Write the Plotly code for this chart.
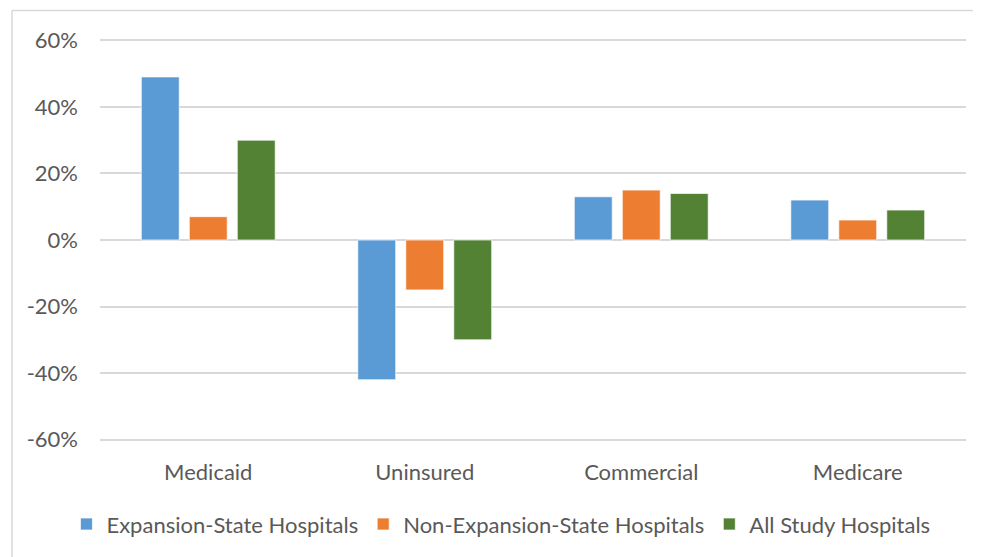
import plotly.graph_objects as go

categories = ["Medicaid", "Uninsured", "Commercial", "Medicare"]
expansion = [0.49, -0.42, 0.13, 0.12]
non_expansion = [0.07, -0.15, 0.15, 0.06]
all_study = [0.30, -0.30, 0.14, 0.09]
series_names = ["Expansion-State Hospitals", "Non-Expansion-State Hospitals", "All Study Hospitals"]
colors = ["#5B9BD5", "#ED7D31", "#548235"]
tick_vals = [-0.6, -0.4, -0.2, 0, 0.2, 0.4, 0.6]
tick_text = ["-60%", "-40%", "-20%", "0%", "20%", "40%", "60%"]

fig = go.Figure()
for name, vals, col in zip(series_names, [expansion, non_expansion, all_study], colors):
    fig.add_trace(go.Bar(x=categories, y=vals, name=name,
                         marker=dict(color=col, line=dict(color="rgba(255,255,255,0.7)", width=1))))

W, H = 981, 557
pad = 10 / 3  # px beyond the +/-60% gridlines
top = 32 - pad
bottom = H - 432 - pad
plot_h = H - top - bottom
plot_w = 866
border_x = -88 / plot_w
border_y = 1 + (top - 2) / plot_h
border = dict(color="#D9D9D9", width=1.5)
fig.update_layout(
    width=W, height=H,
    barmode="group", bargap=0.335, bargroupgap=0.21,
    plot_bgcolor="white", paper_bgcolor="white",
    margin=dict(l=92, r=W - 92 - plot_w, t=top, b=bottom),
    font=dict(family="Lato", size=22, color="#595959"),
    xaxis=dict(showgrid=False, showline=False, ticks="", ticklabelstandoff=14),
    yaxis=dict(range=[-0.61, 0.61], tickvals=tick_vals, ticktext=tick_text,
               showgrid=True, gridcolor="#D9D9D9", gridwidth=1.5,
               zeroline=True, zerolinecolor="#D9D9D9", zerolinewidth=1.5,
               showline=False, ticks="", ticklabelstandoff=21),
    legend=dict(orientation="h", x=0.463, xanchor="center", y=-0.20, yanchor="middle",
                itemwidth=30, traceorder="normal"),
    showlegend=True,
    shapes=[
        dict(type="line", xref="paper", yref="paper", x0=border_x, x1=1.2,
             y0=border_y, y1=border_y, line=border, layer="below"),
        dict(type="line", xref="paper", yref="paper", x0=border_x, x1=border_x,
             y0=border_y, y1=-0.6, line=border, layer="below"),
    ],
)
fig.write_html("out.html")
